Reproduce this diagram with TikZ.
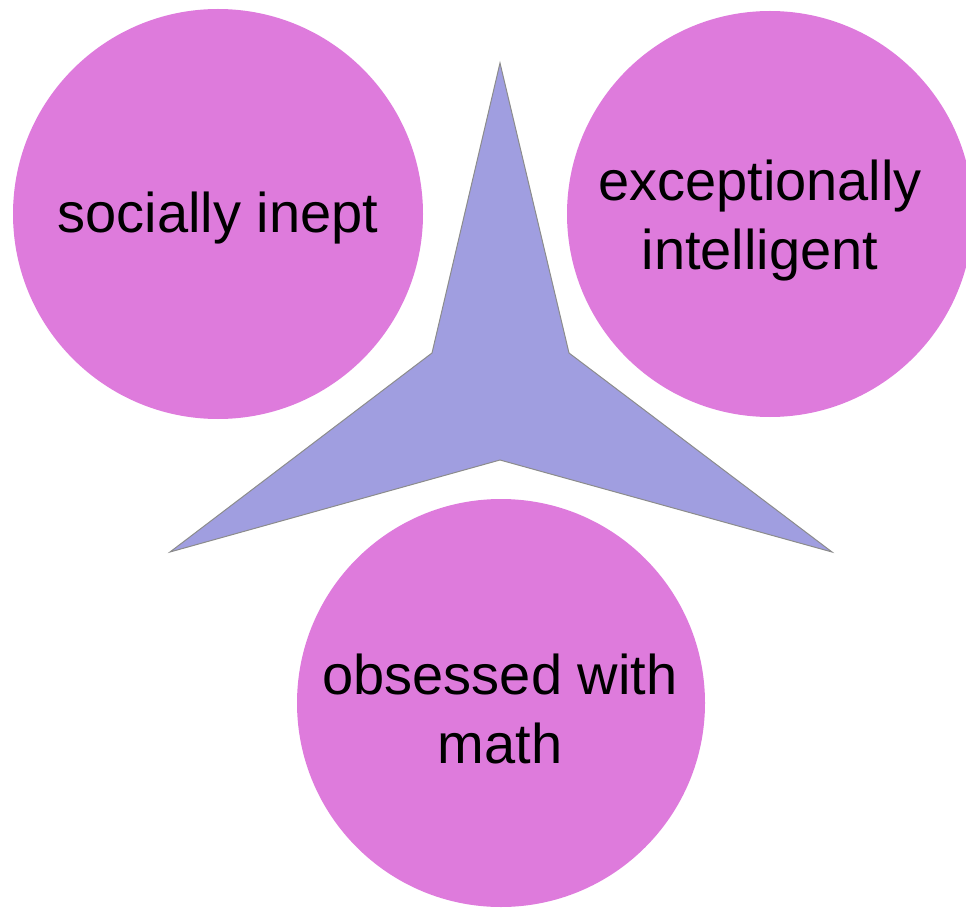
\documentclass[tikz,border=0pt]{standalone}
\usepackage{fontspec}
\setmainfont{Liberation Sans}
\definecolor{bubble}{HTML}{DE7BDC}
\definecolor{starfill}{HTML}{A09EE0}
\definecolor{starline}{HTML}{8C8C8C}
\begin{document}
\begin{tikzpicture}[x=1pt,y=-1pt,
  bubble/.style={circle,fill=bubble,minimum size=#1,inner sep=0pt},
  lbl/.style={align=center,font=\fontsize{56}{69}\selectfont,text=black}]
\useasboundingbox (0,0) rectangle (966,909);
\begin{scope}
\clip (0,0) rectangle (966,909);
\node[bubble=410pt] (left) at (218,214) {};
\node[bubble=406pt] (right) at (770,214) {};
\node[bubble=408pt] (bottom) at (501,703) {};
\end{scope}
\coordinate (t) at (500,63);
\coordinate (ri) at (569,353);
\coordinate (rb) at (832,552);
\coordinate (bi) at (500,460);
\coordinate (lb) at (170,552);
\coordinate (li) at (432,353);
\draw[fill=starfill,draw=starline,line width=1pt,line join=miter] (t) -- (ri) -- (rb) -- (bi) -- (lb) -- (li) -- cycle;
\node[lbl] at (218,218) {socially inept};
\node[lbl] at (760,221) {exceptionally\\intelligent};
\node[lbl] at (500,709) {obsessed with\\math};
\end{tikzpicture}
\end{document}
